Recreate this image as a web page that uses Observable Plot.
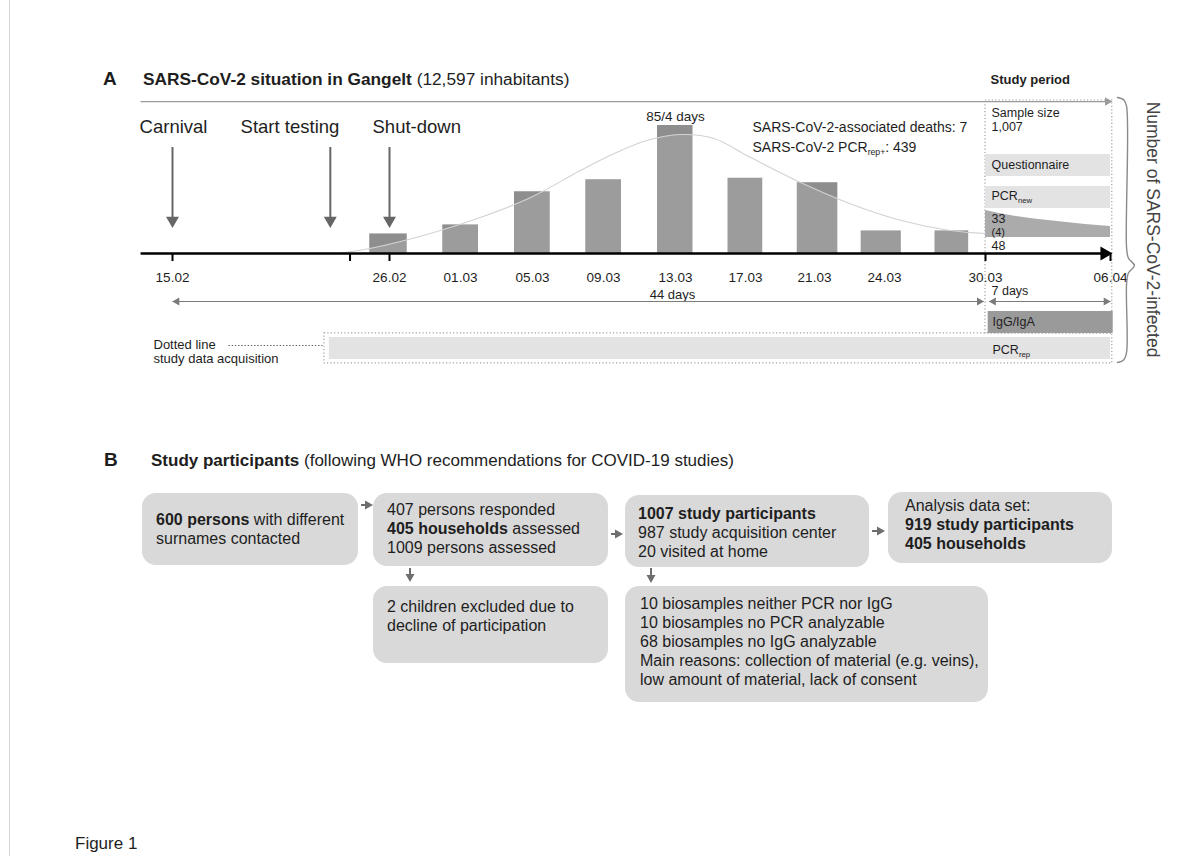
<!DOCTYPE html>
<html><head><meta charset="utf-8">
<script src="https://cdn.jsdelivr.net/npm/d3@7"></script>
<script src="https://cdn.jsdelivr.net/npm/@observablehq/plot@0.6"></script>
<style>
body{margin:0;width:1200px;height:856px;overflow:hidden;background:#fff;position:relative;font-family:"Liberation Sans",Arial,Helvetica,sans-serif;color:#1e1e1e}
.abs{position:absolute;white-space:nowrap}
.box{position:absolute;background:#d9d9d9;border-radius:14px;box-sizing:border-box;font-size:16px;line-height:19px;white-space:nowrap;color:#1e1e1e}
#chartA{position:absolute;left:0;top:0}
#chartA svg{overflow:visible}
</style></head><body>
<div class="abs" style="left:9px;top:0;width:1px;height:856px;background:#d4d4d4"></div>
<div id="chartA"></div>
<div class="abs" style="left:103px;top:69px;font-size:19px;line-height:20px;font-weight:bold">A</div>
<div class="abs" id="titleA" style="left:143px;top:70px;font-size:17.3px;line-height:18px"></div>
<div class="abs" style="left:104px;top:450px;font-size:19px;line-height:20px;font-weight:bold">B</div>
<div class="abs" id="titleB" style="left:151px;top:452px;font-size:17px;line-height:18px"></div>
<div id="flow"></div>
<div class="abs" style="left:75px;top:834px;font-size:17px;line-height:20px">Figure 1</div>
<script>
// ---------- data (panel A) ----------
const titleA = ["SARS-CoV-2 situation in Gangelt", " (12,597 inhabitants)"];
const tickDays = [0, 11, 15, 19, 23, 27, 31, 35, 38, 44, 51];           // days since 15.02.2020
const tickLabels = ["15.02","26.02","01.03","05.03","09.03","13.03","17.03","21.03","24.03","30.03","06.04"];
const axisTickDays = [0, 9, 11, 44, 51];
const barDays = [11, 15, 19, 23, 27, 31, 35, 38, 42];
const barCases = [13, 19, 41, 49, 85, 50, 47, 15, 15];                  // cases per 4 days
const curveDays = [8.3, 10, 13.3, 16.1, 18.9, 21.7, 23.6, 25.4, 27.3, 29.2, 31.3, 34.2, 36.5, 39, 41.9, 44];
const curveCases = [0, 3.3, 13.3, 23.9, 37.2, 55.1, 66.4, 75, 79, 76.4, 63.7, 47.1, 33.2, 21.9, 15.3, 13.3];
const eventLabels = ["Carnival", "Start testing", "Shut-down"];
const eventDays = [0, 8, 11];
const peakLabel = "85/4 days";
const statLabels = ["SARS-CoV-2-associated deaths: 7", "SARS-CoV-2 PCR_{rep+}: 439"];
const studyPeriodLabel = "Study period";
const sampleLabels = ["Sample size", "1,007"];
const studyRows = ["Questionnaire", "PCR_{new}"];
const newCaseDays = [44, 45.4, 47.5, 49.6, 51];
const newCaseTop = [28.6, 25.2, 21.9, 19.3, 17.9];
const newCaseLabels = ["33", "(4)", "48"];
const durationLabels = ["44 days", "7 days"];
const acquisitionRows = ["IgG/IgA", "PCR_{rep}"];
const acquisitionNote = ["Dotted line", "study data acquisition"];
const sideLabel = "Number of SARS-CoV-2-infected";

// ---------- data (panel B) ----------
const titleB = ["Study participants", " (following WHO recommendations for COVID-19 studies)"];
const flowTexts = [
  "<b>600 persons</b> with different<br>surnames contacted",
  "407 persons responded<br><b>405 households</b> assessed<br>1009 persons assessed",
  "<b>1007 study participants</b><br>987 study acquisition center<br>20 visited at home",
  "Analysis data set:<br><b>919 study participants</b><br><b>405 households</b>",
  "2 children excluded due to<br>decline of participation",
  "10 biosamples neither PCR nor IgG<br>10 biosamples no PCR analyzable<br>68 biosamples no IgG analyzable<br>Main reasons: collection of material (e.g. veins),<br>low amount of material, lack of consent"
];

// ---------- layout (scale units: x = day, y = cases) ----------
const L = {
  xPx: [172, 389, 460, 532, 603, 675, 745, 814, 884, 985, 1110],
  axisStart: -1.62, axisEnd: 51,
  titleRule: 100.9, studyTop: 101.6, studyBottom: -53.1, acqBottom: -73, acqLeft: 7.7, rightEdge: 51.1,
  evTop: 70.4, evTip: 17.3, evLabel: 83.7,
  peak: 91, stat: [83.7, 70.4], studyLabel: 115.5, sample: [93, 83.7],
  rows: [[65.7, 51.1, 59.1], [44.5, 29.9, 37.9]], newBase: 10.6, newLab: [22.6, 13.9, 5.3],
  tickLab: -15.9, tickLen: -5.3, dur: [-27.2, -24.6], durArrow: -31.9, durSpans: [[0, 43.9], [44.2, 51]],
  igg: [-38.5, -53.1, -45.8], pcrRep: [-55.8, -70.4, -64.4], note: [-60.4, -69.7], leader: [2.84, 7.6, -61.1],
  sideX: 53.35, sideY: 15.9
};
const ink = "#1e1e1e", grayArrow = "#6e6e6e";
const bars = barDays.map((d, i) => ({day: d, cases: barCases[i]}));
const curve = curveDays.map((d, i) => ({day: d, cases: curveCases[i]}));
const wedge = newCaseDays.map((d, i) => ({day: d, top: newCaseTop[i]}));
const braceDays = [51.39, 51.75, 51.9, 51.9, 52.0, 52.34, 52.0, 51.9, 51.9, 51.75, 51.39];
const braceY = [103.6, 102, 97.7, 4, -3, -8, -13, -20, -65.7, -70.5, -72.4];
const brace = braceDays.map((d, i) => ({day: d, y: braceY[i]}));
const tri = (data, o) => Plot.dot(data, {symbol: "triangle", stroke: "none", ...o});
const one = [0];

const marks = [
  // dotted frames
  Plot.rect(one, {x1: 44, x2: L.rightEdge, y1: L.studyTop, y2: L.studyBottom, fill: "none", stroke: "#a0a0a0", strokeWidth: 1.2, strokeDasharray: "1.2,2.2"}),
  Plot.rect(one, {x1: L.acqLeft, x2: L.rightEdge, y1: L.studyBottom, y2: L.acqBottom, fill: "none", stroke: "#a0a0a0", strokeWidth: 1.2, strokeDasharray: "1.2,2.2"}),
  // light bands
  Plot.rect(L.rows, {x1: 44, x2: 51, y1: d => d[0], y2: d => d[1], fill: "#e3e3e3"}),
  Plot.rect(one, {x1: 7.95, x2: 51, y1: L.pcrRep[0], y2: L.pcrRep[1], fill: "#e3e3e3"}),
  Plot.rect(one, {x1: 44.15, x2: 51.15, y1: L.igg[0], y2: L.igg[1], fill: "#9a9a9a"}),
  // new cases wedge
  Plot.areaY(wedge, {x: "day", y1: L.newBase, y2: "top", fill: "#ababab", curve: "monotone-x"}),
  // bars
  Plot.rect(bars, {x1: d => d.day - 1, x2: d => d.day + 1, y1: 0, y2: "cases", fill: "#8e8e8e"}),
  Plot.areaY(curve, {x: "day", y: "cases", curve: "catmull-rom", fill: "white", fillOpacity: 0.13}),
  Plot.line(curve, {x: "day", y: "cases", curve: "catmull-rom", stroke: "#d2d2d2", strokeWidth: 1.1}),
  // title rule
  Plot.link(one, {x1: L.axisStart, x2: L.axisEnd - 0.2, y1: L.titleRule, y2: L.titleRule, stroke: "#9c9c9c", strokeWidth: 1.3}),
  tri(one, {x: L.axisEnd, y: L.titleRule, r: 3.2, rotate: 90, dx: -3, fill: "#9c9c9c"}),
  // main axis
  Plot.link(one, {x1: L.axisStart, x2: L.axisEnd - 0.3, y1: 0, y2: 0, stroke: "#000", strokeWidth: 2.6}),
  tri(one, {x: L.axisEnd, y: 0, r: 5.2, rotate: 90, dx: -6, fill: "#000"}),
  Plot.ruleX(axisTickDays, {x: d => d, y1: 0, y2: L.tickLen, stroke: "#000", strokeWidth: 2}),
  Plot.text(tickDays, {x: d => d, y: L.tickLab, text: (d, i) => tickLabels[i], fontSize: 13.5, fill: ink}),
  // events
  Plot.ruleX(eventDays, {x: d => d, y1: L.evTop, y2: L.evTip + 6, stroke: "#666", strokeWidth: 2}),
  tri(eventDays, {x: d => d, y: L.evTip, r: 4.8, rotate: 180, dy: -7, fill: "#666"}),
  Plot.text([eventLabels[0]], {x: eventDays[0], y: L.evLabel, text: d => d, fontSize: 18.5, fill: ink, dx: 1}),
  Plot.text([eventLabels[1]], {x: eventDays[1], y: L.evLabel, text: d => d, fontSize: 18.5, fill: ink, textAnchor: "end", dx: 9}),
  Plot.text([eventLabels[2]], {x: eventDays[2], y: L.evLabel, text: d => d, fontSize: 18.5, fill: ink, textAnchor: "start", dx: -17}),
  // annotations
  Plot.text([peakLabel], {x: 27, y: L.peak, text: d => d, fontSize: 13.5, fill: ink}),
  Plot.text(statLabels, {x: 31, y: (d, i) => L.stat[i], text: d => d, fontSize: 14, fill: ink, textAnchor: "start", dx: 7}),
  Plot.text([studyPeriodLabel], {x: 44, y: L.studyLabel, text: d => d, fontSize: 13, fontWeight: "bold", fill: ink, textAnchor: "start", dx: 5}),
  Plot.text(sampleLabels, {x: 44, y: (d, i) => L.sample[i], text: d => d, fontSize: 12.5, fill: ink, textAnchor: "start", dx: 6}),
  Plot.text(studyRows, {x: 44, y: (d, i) => L.rows[i][2], text: d => d, fontSize: 12.5, fill: ink, textAnchor: "start", dx: 6}),
  Plot.text(newCaseLabels, {x: 44, y: (d, i) => L.newLab[i], text: d => d, fontSize: (d, i) => i === 1 ? 11 : 12.5, fill: ink, textAnchor: "start", dx: (0, 6)}),
  Plot.text(acquisitionRows, {x: 44, y: (d, i) => i ? L.pcrRep[2] : L.igg[2], text: d => d, fontSize: 12.5, fill: ink, textAnchor: "start", dx: 7}),
  Plot.text([durationLabels[0]], {x: 27, y: L.dur[0], text: d => d, fontSize: 13, fill: ink, dx: -3}),
  Plot.text([durationLabels[1]], {x: 44, y: L.dur[1], text: d => d, fontSize: 12.5, fill: ink, textAnchor: "start", dx: 6}),
  // duration arrows
  Plot.link(L.durSpans, {x1: d => d[0], x2: d => d[1], y1: L.durArrow, y2: L.durArrow, stroke: "#7a7a7a", strokeWidth: 1.1}),
  tri(L.durSpans, {x: d => d[0], y: L.durArrow, r: 3, rotate: -90, dx: 4.5, fill: "#7a7a7a"}),
  tri(L.durSpans, {x: d => d[1], y: L.durArrow, r: 3, rotate: 90, dx: -4.5, fill: "#7a7a7a"}),
  // acquisition note
  Plot.text(acquisitionNote, {x: 0, y: (d, i) => L.note[i], text: d => d, fontSize: 13, fill: ink, textAnchor: "start", dx: -19}),
  Plot.link(one, {x1: L.leader[0], x2: L.leader[1], y1: L.leader[2], y2: L.leader[2], stroke: "#555", strokeWidth: 1.1, strokeDasharray: "1.3,1.9"}),
  // brace + side label
  Plot.line(brace, {x: "day", y: "y", curve: "catmull-rom", stroke: "#8a8a8a", strokeWidth: 1.4}),
  Plot.text([sideLabel], {x: L.sideX, y: L.sideY, text: d => d, rotate: 90, fontSize: 17.5, fill: "#444"})
];

const svg = Plot.plot({
  width: 1200, height: 380,
  marginLeft: 0, marginRight: 0, marginTop: 0, marginBottom: 0,
  x: {type: "linear", domain: tickDays, range: L.xPx, axis: null},
  y: {type: "linear", domain: [0, 85], range: [253, 125], axis: null},
  style: {fontFamily: '"Liberation Sans", Arial, Helvetica, sans-serif', background: "transparent", overflow: "visible"},
  marks
});
// subscripts written as _{...}
const NS = "http://www.w3.org/2000/svg";
svg.querySelectorAll("text").forEach(t => {
  const m = t.textContent.match(/^(.*?)_\{(.*?)\}(.*)$/);
  if (!m) return;
  t.textContent = "";
  const a = document.createElementNS(NS, "tspan"); a.textContent = m[1];
  const b = document.createElementNS(NS, "tspan"); b.textContent = m[2]; b.setAttribute("font-size", "0.62em"); b.setAttribute("dy", "3");
  const c = document.createElementNS(NS, "tspan"); c.textContent = m[3]; c.setAttribute("dy", "-3");
  t.append(a, b); if (m[3]) t.append(c);
});
document.getElementById("chartA").appendChild(svg);

document.getElementById("titleA").innerHTML = `<b>${titleA[0]}</b>${titleA[1]}`;
document.getElementById("titleB").innerHTML = `<b>${titleB[0]}</b>${titleB[1]}`;

// ---------- panel B layout ----------
const boxLayout = [
  {l: 142, t: 493, w: 216, h: 72, pl: 14, pt: 17},
  {l: 373, t: 493, w: 235, h: 73, pl: 14, pt: 7},
  {l: 625, t: 495, w: 244, h: 72, pl: 13, pt: 9},
  {l: 888, t: 492, w: 224, h: 71, pl: 17, pt: 4},
  {l: 373, t: 586, w: 235, h: 77, pl: 14, pt: 11},
  {l: 625, t: 586, w: 363, h: 116, pl: 15, pt: 8}
];
const flow = document.getElementById("flow");
flowTexts.forEach((txt, i) => {
  const b = boxLayout[i];
  const d = document.createElement("div");
  d.className = "box";
  Object.assign(d.style, {left: b.l + "px", top: b.t + "px", width: b.w + "px", height: b.h + "px", paddingLeft: b.pl + "px", paddingTop: b.pt + "px"});
  d.innerHTML = txt;
  flow.appendChild(d);
});
const conn = [
  {x1: 361, y1: 505, x2: 373, y2: 505},
  {x1: 611, y1: 534, x2: 623, y2: 534},
  {x1: 872, y1: 531, x2: 885, y2: 531},
  {x1: 410, y1: 568, x2: 410, y2: 582},
  {x1: 651, y1: 568, x2: 651, y2: 583}
];
let s = `<svg class="abs" style="left:0;top:0" width="1200" height="856">`;
conn.forEach(c => {
  const horiz = c.y1 === c.y2;
  if (horiz) {
    s += `<line x1="${c.x1}" y1="${c.y1}" x2="${c.x2 - 6}" y2="${c.y2}" stroke="${grayArrow}" stroke-width="2"/>`;
    s += `<polygon points="${c.x2},${c.y2} ${c.x2 - 8},${c.y2 - 4.5} ${c.x2 - 8},${c.y2 + 4.5}" fill="${grayArrow}"/>`;
  } else {
    s += `<line x1="${c.x1}" y1="${c.y1}" x2="${c.x2}" y2="${c.y2 - 6}" stroke="${grayArrow}" stroke-width="2"/>`;
    s += `<polygon points="${c.x2},${c.y2} ${c.x2 - 4.5},${c.y2 - 8} ${c.x2 + 4.5},${c.y2 - 8}" fill="${grayArrow}"/>`;
  }
});
s += `</svg>`;
flow.insertAdjacentHTML("beforeend", s);
</script>
</body></html>
